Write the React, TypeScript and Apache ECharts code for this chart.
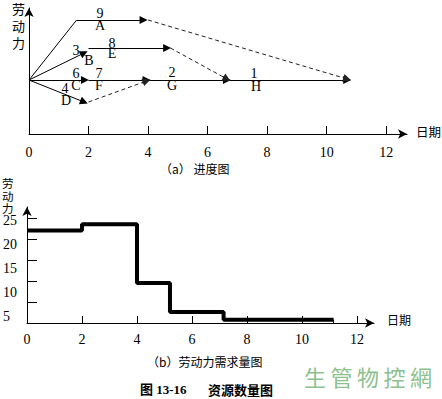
import React, { useEffect, useRef } from 'react';
import * as echarts from 'echarts';

// ---- (a) progress chart data ----
const activityLetters = ['A', 'B', 'C', 'D', 'E', 'F', 'G', 'H'];
const activityWorkers = ['9', '3', '6', '4', '8', '7', '2', '1'];
// label anchor points [day, level]
const workerLabelPos = [[2.39, 12.1], [1.58, 8.4], [1.58, 6.1], [1.21, 4.6], [2.79, 9.1], [2.35, 6.1], [4.81, 6.2], [7.56, 6.1]];
const letterLabelPos = [[2.39, 10.9], [2.02, 7.4], [1.58, 4.9], [1.24, 3.4], [2.79, 8.1], [2.35, 4.9], [4.81, 4.9], [7.63, 4.8]];

// segments [x1, y1, x2, y2]
const plainSegments = [[0, 5.4, 1.6, 11.4]];
const solidArrowSegments = [
  [1.6, 11.4, 3.85, 11.4], // A
  [0, 5.4, 1.85, 8.1], // B
  [0, 5.4, 1.88, 5.4], // C
  [0, 5.4, 1.85, 3.2], // D
  [2, 8.6, 4.64, 8.6], // E
  [2, 5.4, 3.95, 5.4], // F
  [4, 5.4, 6.65, 5.4], // G
  [6.75, 5.4, 10.69, 5.4], // H
];
const dashedArrowSegments = [
  [4, 11.4, 10.69, 5.5],
  [4.75, 8.6, 6.65, 5.5],
  [2, 3.2, 3.95, 5.3],
];
const dayLabels = [0, 2, 4, 6, 8, 10, 12];
const dayTicks = [2, 4, 6, 8, 10, 12];

// ---- (b) labour demand data ----
const demandDays = [0, 2, 2, 4, 4, 5.2, 5.2, 7.15, 7.15, 11.15];
const demandWorkers = [22, 22, 23.5, 23.5, 9.5, 9.5, 2.6, 2.6, 0.8, 0.8];
const workerTicks = [5, 10, 15, 20, 25];

const SERIF = '"Liberation Serif", "DejaVu Serif", serif';
const CJK = '"Noto Sans CJK SC", sans-serif';

export default function App() {
  const ref = useRef<HTMLDivElement>(null);
  useEffect(() => {
    if (!ref.current) return;
    const chart = echarts.init(ref.current, undefined, { renderer: 'svg' });
    const toLines = (segs: number[][]) => segs.map((s) => ({ coords: [[s[0], s[1]], [s[2], s[3]]] }));
    const axisLineStyle = { color: '#000', width: 1 };
    const textSeries = (names: string[], pos: number[][]) => ({
      type: 'custom', xAxisIndex: 0, yAxisIndex: 0, silent: true,
      data: pos,
      renderItem: (params: any, api: any) => {
        const p = api.coord([api.value(0), api.value(1)]);
        return {
          type: 'text', x: Math.round(p[0]), y: Math.round(p[1]),
          style: {
            text: names[params.dataIndex], fill: '#000', font: `14px ${SERIF}`,
            textAlign: 'center', textVerticalAlign: 'middle',
          },
        };
      },
    });
    const option: any = {
      animation: false,
      backgroundColor: '#fff',
      color: ['#000'],
      grid: [
        { left: 29, right: 35, top: 8, bottom: 265 },
        { left: 27, right: 68, top: 207, bottom: 76 },
        { left: 27, right: 68, top: 220, bottom: 59 },
      ],
      xAxis: [
        {
          gridIndex: 0, type: 'value', min: 0, max: 12.7,
          axisLine: { show: true, lineStyle: axisLineStyle, symbol: ['none', 'arrow'], symbolSize: [7, 9] },
          axisTick: { show: true, inside: true, length: 8, customValues: dayTicks, lineStyle: { color: '#000' } },
          axisLabel: { customValues: dayLabels, margin: 11, fontSize: 14, fontFamily: SERIF, color: '#000' },
          splitLine: { show: false },
        },
        {
          gridIndex: 1, type: 'value', min: 0, max: 12.62,
          axisLine: { show: true, lineStyle: axisLineStyle, symbol: ['none', 'arrow'], symbolSize: [7, 9] },
          axisTick: { show: true, inside: true, length: 7, customValues: dayTicks, lineStyle: { color: '#000' } },
          axisLabel: { customValues: dayLabels, margin: 9, fontSize: 14, fontFamily: SERIF, color: '#000' },
          splitLine: { show: false },
        },
        { gridIndex: 2, type: 'value', min: 0, max: 1, show: false },
      ],
      yAxis: [
        {
          gridIndex: 0, type: 'value', min: 0, max: 12.6,
          axisLine: { show: true, lineStyle: axisLineStyle, symbol: ['none', 'arrow'], symbolSize: [7, 9] },
          axisTick: { show: false }, axisLabel: { show: false }, splitLine: { show: false },
        },
        {
          gridIndex: 1, type: 'value', min: 0, max: 27.6,
          axisLine: { show: true, lineStyle: axisLineStyle, symbol: ['none', 'arrow'], symbolSize: [7, 9] },
          axisTick: { show: true, inside: true, length: 10, customValues: workerTicks, lineStyle: { color: '#000' } },
          axisLabel: { show: false }, splitLine: { show: false },
        },
        {
          gridIndex: 2, type: 'value', min: 0, max: 25,
          axisLine: { show: false }, axisTick: { show: false }, splitLine: { show: false },
          axisLabel: { customValues: workerTicks, align: 'left', margin: 26, fontSize: 14, fontFamily: SERIF, color: '#000' },
        },
      ],
      series: [
        {
          type: 'lines', coordinateSystem: 'cartesian2d', xAxisIndex: 0, yAxisIndex: 0,
          symbol: ['none', 'none'], lineStyle: { color: '#000', width: 1, opacity: 1 },
          data: toLines(plainSegments),
        },
        {
          type: 'lines', coordinateSystem: 'cartesian2d', xAxisIndex: 0, yAxisIndex: 0,
          symbol: ['none', 'triangle'], symbolSize: 8,
          lineStyle: { color: '#000', width: 1, opacity: 1 },
          data: toLines(solidArrowSegments),
        },
        {
          type: 'lines', coordinateSystem: 'cartesian2d', xAxisIndex: 0, yAxisIndex: 0,
          symbol: ['none', 'triangle'], symbolSize: 8,
          lineStyle: { color: '#222', width: 1, opacity: 1, type: [4, 3] },
          data: toLines(dashedArrowSegments),
        },
        textSeries(activityWorkers, workerLabelPos),
        textSeries(activityLetters, letterLabelPos),
        {
          type: 'line', xAxisIndex: 1, yAxisIndex: 1, symbol: 'none',
          lineStyle: { color: '#000', width: 4 },
          data: demandDays.map((d, i) => [d, demandWorkers[i]]),
        },
        {
          type: 'line', xAxisIndex: 1, yAxisIndex: 1, symbol: 'none',
          lineStyle: { color: '#000', width: 1 },
          data: [[demandDays[demandDays.length - 1], demandWorkers[demandWorkers.length - 1]], [demandDays[demandDays.length - 1], 0]],
        },
      ],
      graphic: [
        { type: 'text', x: 12, y: 0, style: { text: '劳\n动\n力', font: `13px ${CJK}`, lineHeight: 17, fill: '#000' } },
        { type: 'text', x: 416, y: 125, style: { text: '日期', font: `12.5px ${CJK}`, fill: '#000' } },
        { type: 'text', x: 160, y: 162, style: { text: '（a） 进度图', font: `12px ${CJK}`, fill: '#000' } },
        { type: 'text', x: 2, y: 177, style: { text: '劳\n动\n力', font: `11.5px ${CJK}`, lineHeight: 12.5, fill: '#000' } },
        { type: 'text', x: 387, y: 313, style: { text: '日期', font: `12px ${CJK}`, fill: '#000' } },
        { type: 'text', x: 147, y: 355, style: { text: '（b）劳动力需求量图', font: `12px ${CJK}`, fill: '#000' } },
        { type: 'text', x: 140, y: 383, style: { text: '图 13-16', font: `bold 13px ${SERIF}, ${CJK}`, fill: '#000' } },
        { type: 'text', x: 208, y: 383, style: { text: '资源数量图', font: `bold 13px ${CJK}`, fill: '#000' } },
        ...['生', '管', '物', '控', '網'].map((c, i) => ({
          type: 'text', x: 304 + i * 26.5, y: 365,
          style: { text: c, font: `22px "Noto Sans CJK TC", sans-serif`, fill: '#8cc08c' },
        })),
      ],
    };
    chart.setOption(option);
    return () => chart.dispose();
  }, []);
  return (
    <div
      ref={ref}
      style={{ position: 'absolute', left: 0, top: 0, width: 442, height: 399, background: '#fff' }}
    />
  );
}
